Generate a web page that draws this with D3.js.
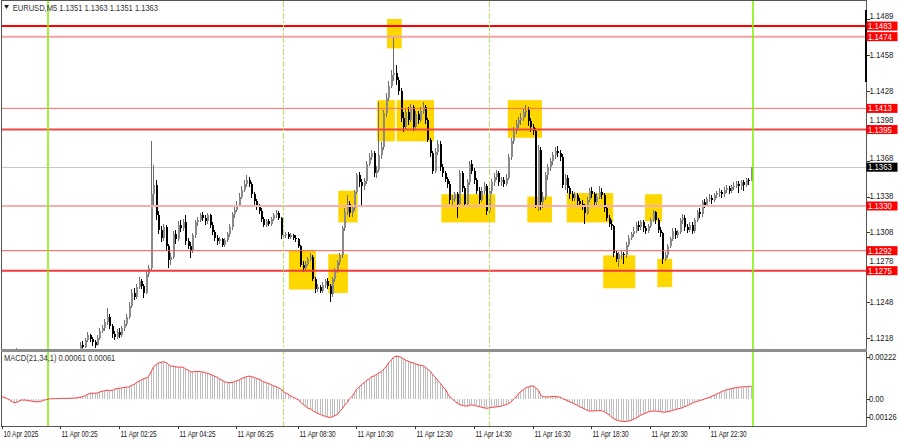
<!DOCTYPE html>
<html><head><meta charset="utf-8">
<script src="https://cdn.jsdelivr.net/npm/d3@7"></script>
<style>
html,body{margin:0;padding:0;background:#fff;}
svg{display:block;}
text{font-family:"Liberation Sans",Arial,sans-serif;}
</style>
</head><body>
<svg id="c" width="900" height="441"></svg>
<script>
// ---------------- DATA ----------------
const symbolTitle = "EURUSD,M5";
const headerOHLC = ["1.1351", "1.1363", "1.1351", "1.1363"];
const macdTitle = "MACD(21,34,1)";
const macdHeaderValues = ["0.00061", "0.00061"];
const firstBar = -19; // bar index of first candle; bar 0 = 11 Apr 00:00

const opens = [
1.1200,1.1198,1.1200,1.1196,1.1199,1.1201,1.1203,1.1200,1.1197,1.1199,
1.1202,1.1198,1.1195,1.1193,1.1196,1.1194,1.1191,1.1193,1.1190,1.1192,
1.1190,1.1194,1.1192,1.1196,1.1195,1.1198,1.1196,1.1199,1.1201,1.1198,
1.1202,1.1204,1.1203,1.1212,1.1210,1.1216,1.1220,1.1217,1.1214,1.1212,
1.1218,1.1224,1.1226,1.1231,1.1236,1.1228,1.1221,1.1219,1.1223,1.1220,
1.1226,1.1230,1.1236,1.1245,1.1256,1.1253,1.1261,1.1266,1.1262,1.1256,
1.1272,1.1277,1.1340,1.1348,1.1322,1.1310,1.1303,1.1312,1.1296,1.1284,
1.1287,1.1306,1.1302,1.1314,1.1311,1.1316,1.1300,1.1296,1.1292,1.1305,
1.1316,1.1318,1.1322,1.1320,1.1317,1.1322,1.1314,1.1308,1.1303,1.1300,
1.1302,1.1297,1.1301,1.1306,1.1312,1.1323,1.1327,1.1331,1.1338,1.1344,
1.1349,1.1352,1.1349,1.1340,1.1334,1.1330,1.1326,1.1319,1.1314,1.1317,
1.1315,1.1319,1.1322,1.1324,1.1320,1.1305,1.1305,1.1306,1.1304,1.1305,
1.1303,1.1302,1.1296,1.1280,1.1277,1.1281,1.1285,1.1287,1.1268,1.1259,
1.1261,1.1258,1.1263,1.1266,1.1262,1.1255,1.1268,1.1275,1.1282,1.1288,
1.1311,1.1325,1.1332,1.1324,1.1328,1.1342,1.1356,1.1350,1.1347,1.1351,
1.1366,1.1372,1.1375,1.1358,1.1361,1.1373,1.1380,1.1409,1.1422,1.1432,
1.1441,1.1443,1.1437,1.1428,1.1405,1.1397,1.1410,1.1403,1.1414,1.1397,
1.1408,1.1403,1.1411,1.1414,1.1403,1.1386,1.1375,1.1360,1.1376,1.1383,
1.1363,1.1358,1.1353,1.1349,1.1335,1.1336,1.1340,1.1332,1.1358,1.1345,
1.1332,1.1350,1.1366,1.1360,1.1352,1.1343,1.1335,1.1343,1.1347,1.1326,
1.1343,1.1350,1.1355,1.1358,1.1350,1.1352,1.1349,1.1354,1.1372,1.1385,
1.1394,1.1400,1.1403,1.1405,1.1410,1.1412,1.1402,1.1397,1.1394,1.1331,
1.1378,1.1333,1.1338,1.1356,1.1363,1.1368,1.1373,1.1377,1.1375,1.1372,
1.1348,1.1354,1.1345,1.1340,1.1337,1.1339,1.1334,1.1332,1.1330,1.1324,
1.1335,1.1343,1.1340,1.1333,1.1338,1.1342,1.1339,1.1328,1.1320,1.1315,
1.1313,1.1290,1.1285,1.1289,1.1289,1.1288,1.1297,1.1303,1.1306,1.1309,
1.1314,1.1312,1.1316,1.1311,1.1309,1.1313,1.1318,1.1325,1.1318,1.1310,
1.1307,1.1285,1.1288,1.1296,1.1302,1.1309,1.1305,1.1308,1.1318,1.1320,
1.1312,1.1310,1.1314,1.1309,1.1318,1.1325,1.1323,1.1333,1.1331,1.1336,
1.1337,1.1335,1.1339,1.1341,1.1342,1.1340,1.1344,1.1345,1.1343,1.1346,
1.1347,1.1349,1.1347,1.1350,1.1348,1.1352,1.1351];

const highs = [
1.1202,1.1201,1.1202,1.1201,1.1203,1.1205,1.1209,1.1202,1.1201,1.1204,
1.1203,1.1199,1.1197,1.1198,1.1197,1.1195,1.1195,1.1194,1.1194,1.1194,
1.1196,1.1196,1.1198,1.1198,1.1200,1.1200,1.1201,1.1204,1.1203,1.1205,
1.1207,1.1206,1.1214,1.1215,1.1218,1.1223,1.1221,1.1219,1.1216,1.1220,
1.1226,1.1229,1.1234,1.1243,1.1238,1.1230,1.1224,1.1225,1.1226,1.1228,
1.1233,1.1238,1.1248,1.1259,1.1260,1.1264,1.1270,1.1268,1.1264,1.1275,
1.1280,1.1385,1.1365,1.1352,1.1326,1.1313,1.1315,1.1314,1.1298,1.1290,
1.1309,1.1310,1.1317,1.1318,1.1319,1.1322,1.1303,1.1299,1.1307,1.1318,
1.1321,1.1324,1.1325,1.1322,1.1324,1.1323,1.1316,1.1310,1.1305,1.1304,
1.1303,1.1303,1.1308,1.1315,1.1325,1.1330,1.1334,1.1341,1.1347,1.1352,
1.1356,1.1355,1.1350,1.1342,1.1336,1.1332,1.1328,1.1321,1.1319,1.1319,
1.1321,1.1324,1.1327,1.1326,1.1321,1.1308,1.1308,1.1308,1.1307,1.1306,
1.1305,1.1303,1.1297,1.1283,1.1283,1.1287,1.1290,1.1288,1.1270,1.1264,
1.1263,1.1265,1.1268,1.1269,1.1264,1.1270,1.1277,1.1284,1.1290,1.1313,
1.1328,1.1339,1.1334,1.1331,1.1344,1.1358,1.1359,1.1353,1.1354,1.1368,
1.1375,1.1378,1.1377,1.1364,1.1418,1.1384,1.1412,1.1426,1.1436,1.1446,
1.1474,1.1450,1.1440,1.1430,1.1410,1.1413,1.1414,1.1417,1.1416,1.1411,
1.1411,1.1414,1.1418,1.1416,1.1405,1.1388,1.1377,1.1379,1.1386,1.1385,
1.1366,1.1360,1.1355,1.1351,1.1339,1.1342,1.1342,1.1361,1.1360,1.1347,
1.1353,1.1368,1.1369,1.1362,1.1354,1.1346,1.1346,1.1350,1.1349,1.1345,
1.1353,1.1358,1.1361,1.1360,1.1355,1.1355,1.1357,1.1374,1.1388,1.1397,
1.1403,1.1406,1.1409,1.1413,1.1416,1.1414,1.1405,1.1400,1.1396,1.1382,
1.1380,1.1342,1.1359,1.1366,1.1371,1.1376,1.1380,1.1381,1.1378,1.1374,
1.1357,1.1356,1.1347,1.1343,1.1342,1.1341,1.1337,1.1335,1.1332,1.1338,
1.1345,1.1346,1.1342,1.1341,1.1347,1.1345,1.1341,1.1330,1.1322,1.1318,
1.1314,1.1292,1.1291,1.1292,1.1291,1.1299,1.1305,1.1308,1.1312,1.1316,
1.1317,1.1318,1.1318,1.1313,1.1315,1.1320,1.1327,1.1326,1.1320,1.1312,
1.1308,1.1291,1.1298,1.1304,1.1311,1.1311,1.1310,1.1320,1.1323,1.1322,
1.1315,1.1316,1.1316,1.1320,1.1327,1.1328,1.1335,1.1336,1.1338,1.1340,
1.1339,1.1341,1.1343,1.1345,1.1344,1.1346,1.1348,1.1347,1.1348,1.1350,
1.1351,1.1351,1.1352,1.1352,1.1354,1.1354,1.1363];

const lows = [
1.1196,1.1196,1.1194,1.1195,1.1198,1.1200,1.1198,1.1195,1.1196,1.1198,
1.1196,1.1193,1.1191,1.1192,1.1192,1.1189,1.1190,1.1188,1.1189,1.1187,
1.1189,1.1190,1.1191,1.1193,1.1194,1.1194,1.1195,1.1198,1.1196,1.1197,
1.1201,1.1200,1.1202,1.1207,1.1209,1.1214,1.1214,1.1211,1.1209,1.1211,
1.1216,1.1222,1.1224,1.1229,1.1225,1.1218,1.1216,1.1217,1.1218,1.1219,
1.1224,1.1228,1.1234,1.1243,1.1250,1.1251,1.1259,1.1259,1.1252,1.1255,
1.1270,1.1275,1.1330,1.1318,1.1306,1.1299,1.1300,1.1292,1.1277,1.1280,
1.1285,1.1298,1.1300,1.1308,1.1309,1.1297,1.1293,1.1286,1.1290,1.1303,
1.1313,1.1316,1.1317,1.1314,1.1315,1.1311,1.1305,1.1300,1.1297,1.1298,
1.1295,1.1295,1.1299,1.1304,1.1310,1.1320,1.1325,1.1329,1.1336,1.1342,
1.1346,1.1346,1.1337,1.1331,1.1327,1.1323,1.1316,1.1312,1.1312,1.1313,
1.1313,1.1317,1.1320,1.1318,1.1302,1.1303,1.1303,1.1302,1.1302,1.1301,
1.1299,1.1294,1.1278,1.1274,1.1275,1.1279,1.1283,1.1266,1.1256,1.1257,
1.1256,1.1256,1.1260,1.1259,1.1248,1.1253,1.1265,1.1273,1.1280,1.1286,
1.1309,1.1322,1.1321,1.1321,1.1326,1.1340,1.1346,1.1331,1.1344,1.1349,
1.1364,1.1369,1.1355,1.1354,1.1359,1.1370,1.1378,1.1406,1.1419,1.1430,
1.1436,1.1433,1.1424,1.1401,1.1393,1.1395,1.1399,1.1401,1.1394,1.1395,
1.1400,1.1401,1.1408,1.1400,1.1384,1.1372,1.1357,1.1358,1.1373,1.1360,
1.1355,1.1350,1.1345,1.1332,1.1331,1.1333,1.1320,1.1330,1.1342,1.1329,
1.1330,1.1348,1.1357,1.1349,1.1340,1.1332,1.1333,1.1340,1.1322,1.1324,
1.1340,1.1347,1.1352,1.1347,1.1347,1.1346,1.1347,1.1352,1.1369,1.1383,
1.1391,1.1396,1.1399,1.1402,1.1406,1.1398,1.1393,1.1390,1.1328,1.1326,
1.1327,1.1328,1.1335,1.1352,1.1360,1.1365,1.1370,1.1372,1.1368,1.1345,
1.1344,1.1341,1.1336,1.1334,1.1334,1.1331,1.1329,1.1327,1.1315,1.1322,
1.1333,1.1337,1.1330,1.1331,1.1336,1.1336,1.1325,1.1317,1.1312,1.1310,
1.1287,1.1282,1.1278,1.1285,1.1281,1.1286,1.1295,1.1301,1.1304,1.1307,
1.1309,1.1310,1.1308,1.1306,1.1307,1.1311,1.1316,1.1315,1.1307,1.1304,
1.1281,1.1283,1.1286,1.1294,1.1300,1.1302,1.1303,1.1306,1.1315,1.1309,
1.1307,1.1308,1.1306,1.1307,1.1316,1.1320,1.1321,1.1328,1.1329,1.1333,
1.1332,1.1333,1.1337,1.1338,1.1337,1.1338,1.1341,1.1340,1.1341,1.1344,
1.1345,1.1341,1.1344,1.1343,1.1346,1.1348,1.1351];

const closes = [
1.1198,1.1200,1.1196,1.1199,1.1201,1.1203,1.1200,1.1197,1.1199,1.1202,
1.1198,1.1195,1.1193,1.1196,1.1194,1.1191,1.1193,1.1190,1.1192,1.1190,
1.1194,1.1192,1.1196,1.1195,1.1198,1.1196,1.1199,1.1201,1.1198,1.1202,
1.1204,1.1203,1.1212,1.1210,1.1216,1.1220,1.1217,1.1214,1.1212,1.1218,
1.1224,1.1226,1.1231,1.1236,1.1228,1.1221,1.1219,1.1223,1.1220,1.1226,
1.1230,1.1236,1.1245,1.1256,1.1253,1.1261,1.1266,1.1262,1.1256,1.1272,
1.1277,1.1340,1.1348,1.1322,1.1310,1.1303,1.1312,1.1296,1.1284,1.1287,
1.1306,1.1302,1.1314,1.1311,1.1316,1.1300,1.1296,1.1292,1.1305,1.1316,
1.1318,1.1322,1.1320,1.1317,1.1322,1.1314,1.1308,1.1303,1.1300,1.1302,
1.1297,1.1301,1.1306,1.1312,1.1323,1.1327,1.1331,1.1338,1.1344,1.1349,
1.1352,1.1349,1.1340,1.1334,1.1330,1.1326,1.1319,1.1314,1.1317,1.1315,
1.1319,1.1322,1.1324,1.1320,1.1305,1.1305,1.1306,1.1304,1.1305,1.1303,
1.1302,1.1296,1.1280,1.1277,1.1281,1.1285,1.1287,1.1268,1.1259,1.1261,
1.1258,1.1263,1.1266,1.1262,1.1255,1.1268,1.1275,1.1282,1.1288,1.1311,
1.1325,1.1332,1.1324,1.1328,1.1342,1.1356,1.1350,1.1347,1.1351,1.1366,
1.1372,1.1375,1.1358,1.1361,1.1373,1.1380,1.1409,1.1422,1.1432,1.1441,
1.1443,1.1437,1.1428,1.1405,1.1397,1.1410,1.1403,1.1414,1.1397,1.1408,
1.1403,1.1411,1.1414,1.1403,1.1386,1.1375,1.1360,1.1376,1.1383,1.1363,
1.1358,1.1353,1.1349,1.1335,1.1336,1.1340,1.1332,1.1358,1.1345,1.1332,
1.1350,1.1366,1.1360,1.1352,1.1343,1.1335,1.1343,1.1347,1.1326,1.1343,
1.1350,1.1355,1.1358,1.1350,1.1352,1.1349,1.1354,1.1372,1.1385,1.1394,
1.1400,1.1403,1.1405,1.1410,1.1412,1.1402,1.1397,1.1394,1.1331,1.1378,
1.1333,1.1338,1.1356,1.1363,1.1368,1.1373,1.1377,1.1375,1.1372,1.1348,
1.1354,1.1345,1.1340,1.1337,1.1339,1.1334,1.1332,1.1330,1.1324,1.1335,
1.1343,1.1340,1.1333,1.1338,1.1342,1.1339,1.1328,1.1320,1.1315,1.1313,
1.1290,1.1285,1.1289,1.1289,1.1288,1.1297,1.1303,1.1306,1.1309,1.1314,
1.1312,1.1316,1.1311,1.1309,1.1313,1.1318,1.1325,1.1318,1.1310,1.1307,
1.1285,1.1288,1.1296,1.1302,1.1309,1.1305,1.1308,1.1318,1.1320,1.1312,
1.1310,1.1314,1.1309,1.1318,1.1325,1.1323,1.1333,1.1331,1.1336,1.1337,
1.1335,1.1339,1.1341,1.1342,1.1340,1.1344,1.1345,1.1343,1.1346,1.1347,
1.1349,1.1347,1.1350,1.1348,1.1352,1.1351,1.1363];

const macdValues = [
0.00011,0.00008,0.00003,-0.00004,-0.00012,-0.00017,-0.00016,-0.00010,-0.00005,-0.00005,
-0.00006,-0.00008,-0.00010,-0.00012,-0.00013,-0.00013,-0.00010,-0.00006,-0.00003,0.00000,
0.00001,0.00002,0.00002,0.00002,0.00003,0.00003,0.00003,0.00003,0.00004,0.00004,
0.00005,0.00006,0.00009,0.00012,0.00016,0.00022,0.00027,0.00028,0.00027,0.00029,
0.00033,0.00037,0.00039,0.00042,0.00040,0.00041,0.00046,0.00050,0.00051,0.00052,
0.00055,0.00056,0.00058,0.00064,0.00070,0.00078,0.00086,0.00092,0.00095,0.00100,
0.00105,0.00132,0.00152,0.00163,0.00170,0.00174,0.00176,0.00172,0.00163,0.00156,
0.00155,0.00152,0.00150,0.00152,0.00149,0.00142,0.00135,0.00129,0.00128,0.00130,
0.00130,0.00129,0.00128,0.00125,0.00121,0.00117,0.00113,0.00108,0.00102,0.00095,
0.00088,0.00082,0.00078,0.00077,0.00079,0.00082,0.00086,0.00091,0.00097,0.00102,
0.00106,0.00108,0.00106,0.00101,0.00097,0.00093,0.00088,0.00082,0.00077,0.00073,
0.00068,0.00062,0.00058,0.00053,0.00045,0.00035,0.00029,0.00022,0.00015,0.00008,
0.00003,-0.00005,-0.00015,-0.00027,-0.00035,-0.00042,-0.00047,-0.00055,-0.00063,-0.00068,
-0.00073,-0.00078,-0.00082,-0.00085,-0.00087,-0.00084,-0.00079,-0.00072,-0.00060,-0.00045,
-0.00030,-0.00015,0.00001,0.00015,0.00030,0.00045,0.00058,0.00068,0.00078,0.00088,
0.00096,0.00105,0.00110,0.00116,0.00122,0.00129,0.00140,0.00155,0.00170,0.00185,
0.00197,0.00203,0.00201,0.00196,0.00190,0.00184,0.00178,0.00174,0.00170,0.00166,
0.00162,0.00159,0.00156,0.00150,0.00142,0.00130,0.00116,0.00102,0.00088,0.00074,
0.00060,0.00045,0.00027,0.00012,0.00000,-0.00010,-0.00020,-0.00026,-0.00030,-0.00033,
-0.00033,-0.00030,-0.00028,-0.00030,-0.00033,-0.00036,-0.00039,-0.00042,-0.00044,-0.00042,
-0.00040,-0.00038,-0.00037,-0.00036,-0.00033,-0.00030,-0.00026,-0.00022,-0.00012,0.00000,
0.00012,0.00024,0.00035,0.00044,0.00052,0.00058,0.00061,0.00062,0.00052,0.00042,
0.00022,0.00012,0.00010,0.00010,0.00011,0.00012,0.00012,0.00011,0.00008,0.00002,
-0.00004,-0.00009,-0.00013,-0.00018,-0.00024,-0.00030,-0.00036,-0.00042,-0.00048,-0.00054,
-0.00057,-0.00057,-0.00056,-0.00055,-0.00055,-0.00055,-0.00060,-0.00068,-0.00076,-0.00085,
-0.00093,-0.00099,-0.00103,-0.00105,-0.00106,-0.00106,-0.00104,-0.00100,-0.00095,-0.00089,
-0.00083,-0.00077,-0.00071,-0.00066,-0.00061,-0.00058,-0.00057,-0.00057,-0.00058,-0.00060,
-0.00062,-0.00062,-0.00060,-0.00057,-0.00054,-0.00050,-0.00047,-0.00044,-0.00041,-0.00036,
-0.00031,-0.00026,-0.00020,-0.00015,-0.00011,-0.00007,-0.00004,0.00000,0.00003,0.00008,
0.00013,0.00018,0.00023,0.00030,0.00035,0.00040,0.00044,0.00047,0.00050,0.00052,
0.00054,0.00056,0.00057,0.00058,0.00058,0.00059,0.00061];

// horizontal price levels
const levelPrices = [1.1483, 1.1474, 1.1413, 1.1395, 1.1330, 1.1292, 1.1275];
const currentPrice = 1.1363;
// right axis price ticks
const priceTicks = [1.1489, 1.1458, 1.1428, 1.1398, 1.1368, 1.1338, 1.1308, 1.1278, 1.1248, 1.1218];
const macdTicks = [0.00222, 0.00, -0.00126];
const macdTickLabels = ["0.00222", "0.00", "-0.00126"];
// time axis labels and the bar they belong to
const timeLabels = ["10 Apr 2025","11 Apr 00:25","11 Apr 02:25","11 Apr 04:25","11 Apr 06:25","11 Apr 08:30","11 Apr 10:30","11 Apr 12:30","11 Apr 14:30","11 Apr 16:30","11 Apr 18:30","11 Apr 20:30","11 Apr 22:30"];
const timeLabelBars = [-19, 5, 29, 53, 77, 102, 126, 150, 174, 198, 222, 246, 270];
// day / session separators (bar index)
const daySeparatorBars = [0, 288];
const sessionBars = [96, 180];
// highlight rectangles: bar from, bar to, price top, price bottom
const boxFromBar = [138.5, 134.5, 142.4, 187.8, 118.6, 160.7, 195.8, 211.9, 98.4, 114.5, 243.9, 226.8, 248.9];
const boxToBar   = [144.5, 141.7, 157.7, 201.8, 126.5, 182.7, 205.9, 230.9, 109.4, 122.5, 250.9, 239.9, 255.0];
const boxTop     = [1.1489, 1.1420, 1.1420, 1.1420, 1.1343, 1.1340, 1.1338, 1.1341, 1.1292, 1.1289, 1.1340, 1.1288, 1.1285];
const boxBottom  = [1.1464, 1.1385, 1.1385, 1.1388, 1.1316, 1.1316, 1.1316, 1.1316, 1.1259, 1.1256, 1.1317, 1.1260, 1.1261];

// ---------------- LAYOUT / STYLE ----------------
const L = 2, R = 866, T = 1, mainB = 350, macdT = 351.5, macdB = 426;
const levelStyle = [
  {c:"#ff0000", w:2}, {c:"#f4a3a3", w:2}, {c:"#ff6a6a", w:1}, {c:"#f24545", w:2},
  {c:"#f7b0b0", w:2}, {c:"#ff5555", w:1}, {c:"#f03c3c", w:2}];

const svg = d3.select("#c");
svg.append("rect").attr("width",900).attr("height",441).attr("fill","#fff");

const x = d3.scaleLinear().domain([0, 288]).range([48, 753]);
const y = d3.scaleLinear().domain([1.1218, 1.1489]).range([337.7, 19]);
const ym = d3.scaleLinear().domain([-0.00126, 0.00222]).range([425.7, 352]);

const defs = svg.append("defs");
defs.append("clipPath").attr("id","clipMain").append("rect").attr("x",L).attr("y",T).attr("width",R-L).attr("height",mainB-T-1.5);
defs.append("clipPath").attr("id","clipMacd").append("rect").attr("x",L).attr("y",macdT+1).attr("width",R-L).attr("height",macdB-macdT-1);

const bars = closes.map((c,i)=>({k:firstBar+i, o:opens[i], h:highs[i], l:lows[i], c:c, m:macdValues[i]}));

function label(g, tx, ty, str, size, sx, fill, anchor){
  return g.append("text").attr("transform",`translate(${tx},${ty}) scale(${sx},1)`)
    .attr("font-size",size).attr("fill",fill||"#222").attr("text-anchor",anchor||"start").text(str);
}

// highlight boxes
const gMain = svg.append("g").attr("clip-path","url(#clipMain)");
const boxes = boxFromBar.map((b,i)=>({a:b, b:boxToBar[i], t:boxTop[i], u:boxBottom[i]}));
gMain.selectAll("rect.box").data(boxes).join("rect").attr("class","box")
  .attr("x",d=>x(d.a)).attr("width",d=>x(d.b)-x(d.a))
  .attr("y",d=>y(d.t)).attr("height",d=>y(d.u)-y(d.t))
  .attr("fill","#ffd700");

// vertical separators (both panels)
const gV = svg.append("g");
gV.selectAll("line.day").data(daySeparatorBars).join("line")
  .attr("x1",d=>x(d)).attr("x2",d=>x(d)).attr("y1",T).attr("y2",macdB)
  .attr("stroke","#7cf000").attr("stroke-width",1.5);
gV.selectAll("line.ses").data(sessionBars).join("line")
  .attr("x1",d=>Math.round(x(d))+0.5).attr("x2",d=>Math.round(x(d))+0.5).attr("y1",T).attr("y2",macdB)
  .attr("stroke","#a8e85a").attr("stroke-width",1).attr("stroke-dasharray","6,2,2,2");

// current price line
gMain.append("line").attr("x1",L).attr("x2",R).attr("y1",Math.round(y(currentPrice))+0.5).attr("y2",Math.round(y(currentPrice))+0.5)
  .attr("stroke","#c8c8c8").attr("stroke-width",1);

// candles
const gC = gMain.append("g").attr("shape-rendering","crispEdges");
const px = d=>Math.round(x(d.k));
gC.selectAll("line.wick").data(bars).join("line")
  .attr("x1",d=>px(d)+0.5).attr("x2",d=>px(d)+0.5)
  .attr("y1",d=>y(d.h)).attr("y2",d=>y(d.l))
  .attr("stroke",d=>d.c>=d.o?"#6e6e6e":"#000").attr("stroke-width",1);
gC.selectAll("rect.body").data(bars).join("rect")
  .attr("x",d=>px(d)).attr("width",2)
  .attr("y",d=>y(Math.max(d.o,d.c)))
  .attr("height",d=>Math.max(1, Math.abs(y(d.o)-y(d.c))))
  .attr("fill",d=>d.c>=d.o?"#8a8a8a":"#000");

// level lines
gMain.selectAll("line.lvl").data(levelPrices).join("line")
  .attr("x1",L).attr("x2",R).attr("y1",d=>y(d)).attr("y2",d=>y(d))
  .attr("stroke",(d,i)=>levelStyle[i].c).attr("stroke-width",(d,i)=>levelStyle[i].w);

// MACD
const gM = svg.append("g").attr("clip-path","url(#clipMacd)");
gM.append("g").attr("shape-rendering","crispEdges").selectAll("line").data(bars).join("line")
  .attr("x1",d=>px(d)+0.5).attr("x2",d=>px(d)+0.5)
  .attr("y1",ym(0)).attr("y2",d=>ym(d.m))
  .attr("stroke","#bdbdbd").attr("stroke-width",1);
gM.append("path").datum(bars)
  .attr("d", d3.line().x(d=>px(d)+0.5).y(d=>ym(d.m)))
  .attr("fill","none").attr("stroke","#ff3c3c").attr("stroke-width",1);

// frames
const gF = svg.append("g").attr("shape-rendering","crispEdges");
gF.append("line").attr("x1",L-0.5).attr("x2",L-0.5).attr("y1",0).attr("y2",macdB).attr("stroke","#555");
gF.append("line").attr("x1",R+0.5).attr("x2",R+0.5).attr("y1",0).attr("y2",macdB).attr("stroke","#555");
gF.append("line").attr("x1",L-1).attr("x2",R+1).attr("y1",0.5).attr("y2",0.5).attr("stroke","#555");
gF.append("rect").attr("x",L-1).attr("y",mainB-1.5).attr("width",R-L+2).attr("height",3).attr("fill","#8e8e8e");
gF.append("line").attr("x1",L-1).attr("x2",R+1).attr("y1",macdB+0.5).attr("y2",macdB+0.5).attr("stroke","#555");
gF.append("rect").attr("x",R-1).attr("y",10).attr("width",2).attr("height",72).attr("fill","#000");

// right price axis
const gA = svg.append("g");
const tagCenters = levelPrices.concat([currentPrice]).map(p=>y(p));
gA.selectAll("line.pt").data(priceTicks).join("line")
  .attr("x1",R+1).attr("x2",R+4).attr("y1",d=>Math.round(y(d))+0.5).attr("y2",d=>Math.round(y(d))+0.5)
  .attr("stroke","#333").attr("shape-rendering","crispEdges");
priceTicks.forEach(p=>{
  let base = y(p)+3;
  // a tick label that would sit under a price tag is lifted just above it
  tagCenters.forEach(c=>{ if (Math.abs(c - y(p)) < 10 && c >= y(p) - 2) base = Math.min(base, c - 6.6); });
  label(gA, 869.5, base, d3.format(".4f")(p), 8.4, 0.93, "#222");
});

// level labels
levelPrices.forEach(p=>{
  gA.append("rect").attr("x",R+0.5).attr("y",y(p)-4.5).attr("width",31).attr("height",9).attr("fill","#ff0000");
  label(gA, 868, y(p)+3, d3.format(".4f")(p), 8.4, 0.93, "#fff");
});
gA.append("rect").attr("x",R+0.5).attr("y",y(currentPrice)-4.5).attr("width",31).attr("height",9).attr("fill","#000");
label(gA, 868, y(currentPrice)+3, d3.format(".4f")(currentPrice), 8.4, 0.93, "#fff");

// MACD axis
const macdLabelY = [357, ym(0), 417];
macdTicks.forEach((v,i)=>{
  gA.append("line").attr("x1",R+1).attr("x2",R+4).attr("y1",Math.round(macdLabelY[i])+0.5).attr("y2",Math.round(macdLabelY[i])+0.5).attr("stroke","#333");
  label(gA, v<0?866.8:869, macdLabelY[i]+3, macdTickLabels[i], 8.4, 0.9, "#222");
});

// time axis
timeLabelBars.forEach((b,i)=>{
  const xx = Math.max(L, Math.round(x(b)));
  gA.append("line").attr("x1",xx+0.5).attr("x2",xx+0.5).attr("y1",macdB).attr("y2",macdB+3).attr("stroke","#333");
  label(gA, xx+1.5, 436.5, timeLabels[i], 8.4, 0.77, "#222");
});

// header
gA.append("path").attr("d","M4,5 L9,5 L6.5,9 Z").attr("fill","#222");
label(gA, 12.7, 10.5, symbolTitle + "  " + headerOHLC.join(" "), 8.4, 0.9, "#333");
label(gA, 4, 361, macdTitle + " " + macdHeaderValues.join(" "), 8.4, 0.9, "#333");
</script>
</body></html>
